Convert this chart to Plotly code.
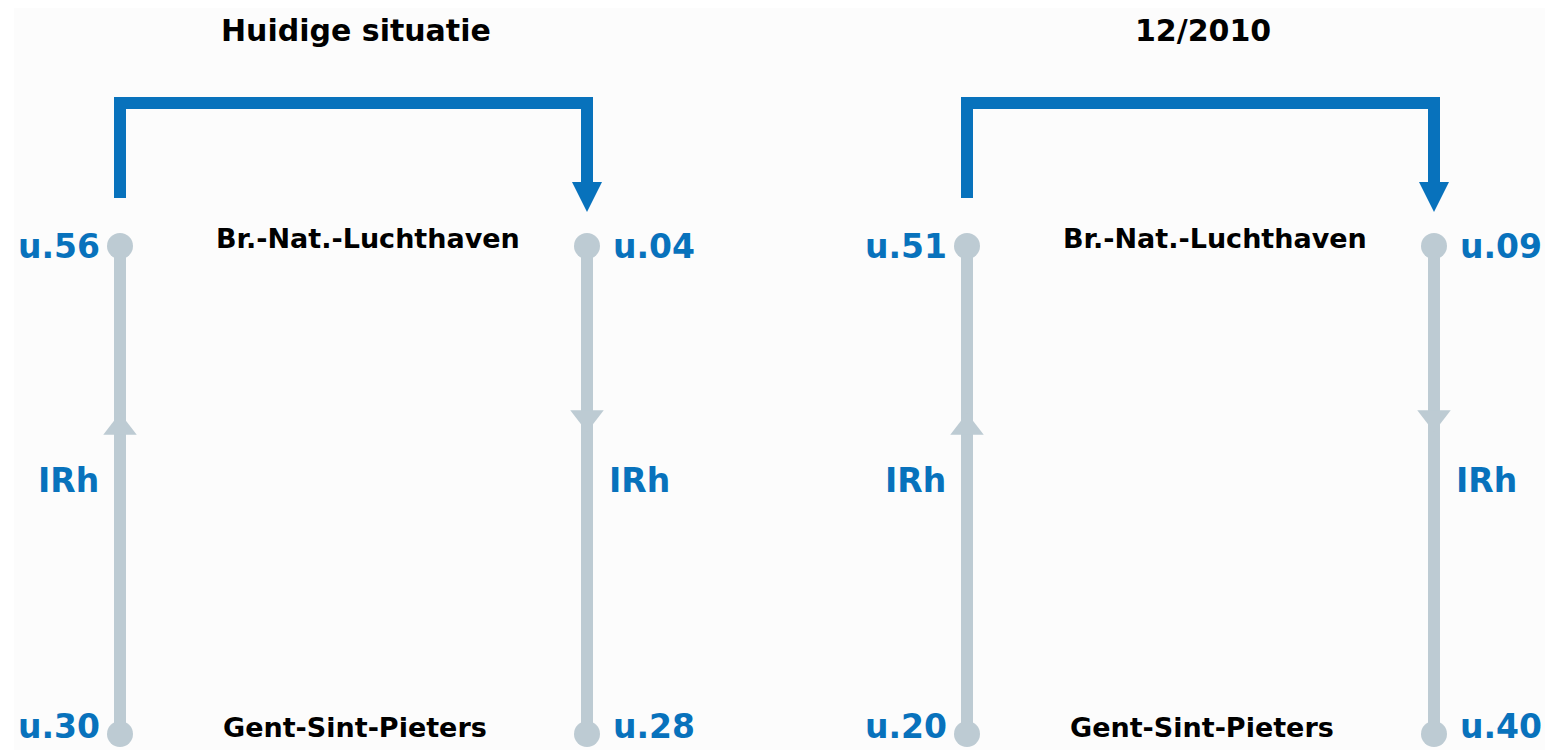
import plotly.graph_objects as go

# ---- data ----
panel_titles = ["Huidige situatie", "12/2010"]
station_top = "Br.-Nat.-Luchthaven"
station_bottom = "Gent-Sint-Pieters"
train_label = "IRh"
# left line (Gent -> Luchthaven), right line (Luchthaven -> Gent)
depart_gent = ["u.30", "u.20"]
arrive_airport = ["u.56", "u.51"]
depart_airport = ["u.04", "u.09"]
arrive_gent = ["u.28", "u.40"]

# ---- layout constants ----
W, H = 1553, 750
BLUE = "#0872BC"
GRAY = "#BDCBD3"
FONT = "DejaVu Sans"
left_x = [120, 967]
line_gap = 467
y_top, y_bot = 246, 734
y_bracket = 103
y_bracket_start = 198
y_arrow_tip = 212

fig = go.Figure()

annotations = []
for i in range(2):
    lx = left_x[i]
    rx = lx + line_gap
    # gray lines
    for x in (lx, rx):
        fig.add_trace(go.Scatter(x=[x, x], y=[y_top, y_bot], mode="lines",
                                 line=dict(color=GRAY, width=12), hoverinfo="skip", showlegend=False))
    # gray arrowheads
    fig.add_trace(go.Scatter(x=[lx], y=[427.5], mode="markers",
                             marker=dict(symbol="triangle-up", size=29, color=GRAY, line=dict(width=0)),
                             hoverinfo="skip", showlegend=False))
    fig.add_trace(go.Scatter(x=[rx], y=[417.5], mode="markers",
                             marker=dict(symbol="triangle-down", size=29, color=GRAY, line=dict(width=0)),
                             hoverinfo="skip", showlegend=False))
    # end dots
    fig.add_trace(go.Scatter(x=[lx, lx, rx, rx], y=[y_top, y_bot, y_top, y_bot], mode="markers",
                             marker=dict(symbol="circle", size=26, color=GRAY, line=dict(width=0)),
                             hoverinfo="skip", showlegend=False))
    # blue connection bracket
    fig.add_trace(go.Scatter(x=[lx, lx, rx, rx], y=[y_bracket_start, y_bracket, y_bracket, y_arrow_tip - 26],
                             mode="lines", line=dict(color=BLUE, width=12),
                             hoverinfo="skip", showlegend=False))
    fig.add_trace(go.Scatter(x=[rx], y=[y_arrow_tip], mode="markers",
                             marker=dict(symbol="arrow-down", size=30, color=BLUE, line=dict(width=0)),
                             hoverinfo="skip", showlegend=False))

    # texts
    def txt(text, x, y, size, color, xanchor="center"):
        annotations.append(dict(text="<b>" + text + "</b>", x=x, y=y, xref="x", yref="y",
                                showarrow=False, xanchor=xanchor, yanchor="middle",
                                font=dict(family=FONT, size=size, color=color)))

    txt(panel_titles[i], lx + 236, 30, 30, "black")
    txt(station_top, lx + 248, 238, 27, "black")
    txt(station_bottom, lx + 235, 727, 27, "black")
    txt(arrive_airport[i], lx - 18, y_top, 33, BLUE, "right")
    txt(depart_gent[i], lx - 18, 726, 33, BLUE, "right")
    txt(depart_airport[i], rx + 24, y_top, 33, BLUE, "left")
    txt(arrive_gent[i], rx + 24, 726, 33, BLUE, "left")
    txt(train_label, lx - 19, 480, 33, BLUE, "right")
    txt(train_label, rx + 20, 480, 33, BLUE, "left")

fig.update_layout(
    width=W, height=H,
    margin=dict(l=0, r=0, t=0, b=0),
    paper_bgcolor="white", plot_bgcolor="white",
    xaxis=dict(range=[0, W], visible=False, fixedrange=True),
    yaxis=dict(range=[H, 0], visible=False, fixedrange=True),
    annotations=annotations,
    shapes=[dict(type="rect", xref="x", yref="y", x0=14, x1=1545, y0=8, y1=H,
                 fillcolor="#FCFCFC", line=dict(width=0), layer="below")],
    showlegend=False,
)

fig.write_html("out.html", config={"displayModeBar": False},
               post_script="document.body.style.margin='0';")
